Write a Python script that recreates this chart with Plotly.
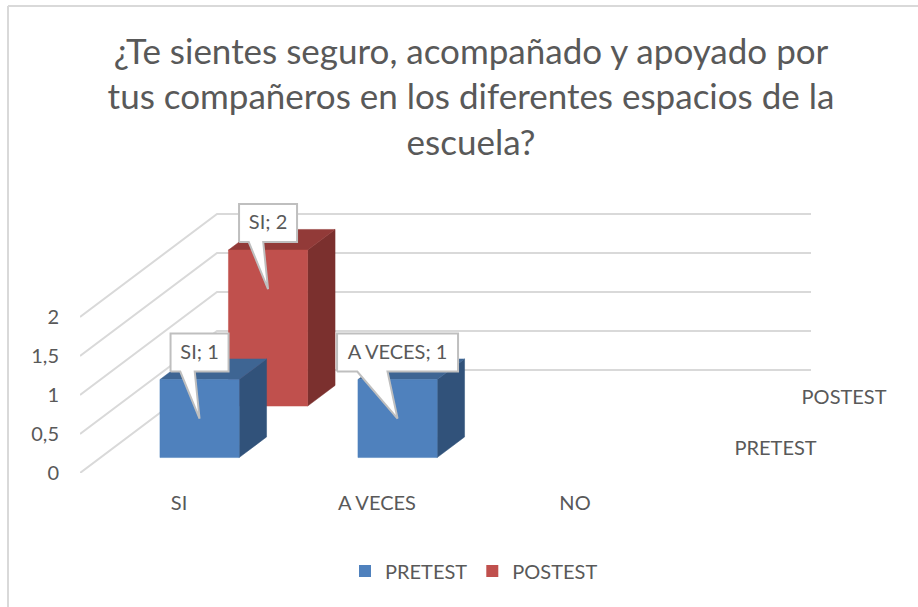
import plotly.graph_objects as go

categories = ["SI", "A VECES", "NO"]
series_names = ["PRETEST", "POSTEST"]
pretest = [1, 1, 0]
postest = [2, 0, 0]
y_ticks = [0, 0.5, 1, 1.5, 2]
title_lines = ["¿Te sientes seguro, acompañado y apoyado por",
               "tus compañeros en los diferentes espacios de la",
               "escuela?"]

FONT = "Lato"
GREY = "#595959"
GRID = "#D9D9D9"
COLORS = [("#4F81BD", "#3E6593", "#31527A"), ("#C0504D", "#923A38", "#7B302E")]

# oblique projection: one depth unit moves the point right and up on the plot
KX, KY = 68.5 / 198, 51.5 / 78
PX_X, PX_Y = 1 / 198, 1 / 78


def proj(c, v, z):
    return c + z * KX, v + z * KY


fig = go.Figure()


def poly(pts, color, line=None, width=0.5):
    xs, ys = zip(*pts)
    fig.add_trace(go.Scatter(x=list(xs) + [xs[0]], y=list(ys) + [ys[0]], mode="lines", fill="toself",
                             fillcolor=color, line=dict(color=line or color, width=width),
                             showlegend=False, hoverinfo="skip", cliponaxis=False))


# gridlines: along the side wall, then along the back wall
for t in y_ticks:
    pts = [proj(0, t, 0), proj(0, t, 2), proj(len(categories), t, 2)]
    fig.add_trace(go.Scatter(x=[p[0] for p in pts], y=[p[1] for p in pts], mode="lines",
                             line=dict(color=GRID, width=2), showlegend=False,
                             hoverinfo="skip", cliponaxis=False))

# bars, back series first
for z in [1, 0]:
    vals = [pretest, postest][z]
    front, top, side = COLORS[z]
    for c, v in enumerate(vals):
        if not v:
            continue
        c0, c1, z0, z1 = c + 0.3, c + 0.7, z + 0.3, z + 0.7
        poly([proj(c1, 0, z0), proj(c1, 0, z1), proj(c1, v, z1), proj(c1, v, z0)], side)
        poly([proj(c0, v, z0), proj(c1, v, z0), proj(c1, v, z1), proj(c0, v, z1)], top)
        poly([proj(c0, 0, z0), proj(c1, 0, z0), proj(c1, v, z0), proj(c0, v, z0)], front)

# data-label callouts
lx, ly, lt = [], [], []
for z in [1, 0]:
    vals = [pretest, postest][z]
    for c, v in enumerate(vals):
        if not v:
            continue
        label = f"{categories[c]}; {v}"
        tx, ty = proj(c + 0.5, v - 0.5, z + 0.3)
        w = (58 if len(label) < 6 else 121) * PX_X
        left, right = tx - w / 2, tx + w / 2
        bot, topy = ty + 47 * PX_Y, ty + 85 * PX_Y
        poly([(left, bot), (left + w * 0.167, bot), (tx, ty), (left + w * 0.417, bot), (right, bot),
              (right, topy), (left, topy)], "#FFFFFF", line="#BFBFBF", width=2)
        lx.append(tx)
        ly.append((bot + topy) / 2 - 1 * PX_Y)
        lt.append(label)
fig.add_trace(go.Scatter(x=lx, y=ly, text=lt, mode="text", textposition="middle center",
                         textfont=dict(family=FONT, size=20, color=GREY), showlegend=False,
                         hoverinfo="skip", cliponaxis=False))

# depth-axis labels
dep = [proj(3.34, -3 * PX_Y, z + 0.5) for z in range(2)]
fig.add_trace(go.Scatter(x=[p[0] for p in dep], y=[p[1] + 0.0 for p in dep], text=series_names, mode="text",
                         textposition="middle center", textfont=dict(family=FONT, size=20, color=GREY),
                         showlegend=False, hoverinfo="skip", cliponaxis=False))

# legend entries
for name, col in zip(series_names, COLORS):
    fig.add_trace(go.Scatter(x=[None], y=[None], mode="markers", name=name,
                             marker=dict(symbol="square", size=12, color=col[0])))

PLOT_H = 473 - 150
fig.update_layout(
    width=918, height=607, margin=dict(l=80, r=0, t=150, b=134),
    paper_bgcolor="white", plot_bgcolor="rgba(0,0,0,0)", separators=", ",
    font=dict(family=FONT, size=20, color=GREY),
    title=dict(text="<br>".join(title_lines), x=471 / 918, xanchor="center", y=0.895, yanchor="top",
               font=dict(family=FONT, size=35, color=GREY)),
    legend=dict(orientation="h", xref="container", yref="container", x=474 / 918, xanchor="center",
                y=1 - 571 / 607, yanchor="middle",
                font=dict(family=FONT, size=20, color=GREY), itemwidth=30),
    xaxis=dict(range=[0, 838 / 198], tickmode="array", tickvals=[i + 0.5 for i in range(len(categories))],
               ticktext=categories, showgrid=False, zeroline=False, showline=False, ticks="",
               ticklabelstandoff=16),
    yaxis=dict(range=[-3 * PX_Y * 0, PLOT_H / 78], tickmode="array", tickvals=y_ticks,
               ticktext=[str(t).replace(".", ",").replace(",0", "") for t in y_ticks],
               showgrid=False, zeroline=False, showline=False, ticks="", ticklabelstandoff=20),
    shapes=[dict(type="line", xref="paper", yref="paper", x0=-72 / 838, x1=1, y0=1 + 144 / PLOT_H, y1=1 + 144 / PLOT_H,
                 line=dict(color=GRID, width=2)),
            dict(type="line", xref="paper", yref="paper", x0=-72 / 838, x1=-72 / 838, y0=1 + 144 / PLOT_H,
                 y1=-134 / PLOT_H, line=dict(color=GRID, width=2))],
)
fig.write_html("out.html", config=dict(displayModeBar=False),
               post_script="document.body.style.margin='0';")
